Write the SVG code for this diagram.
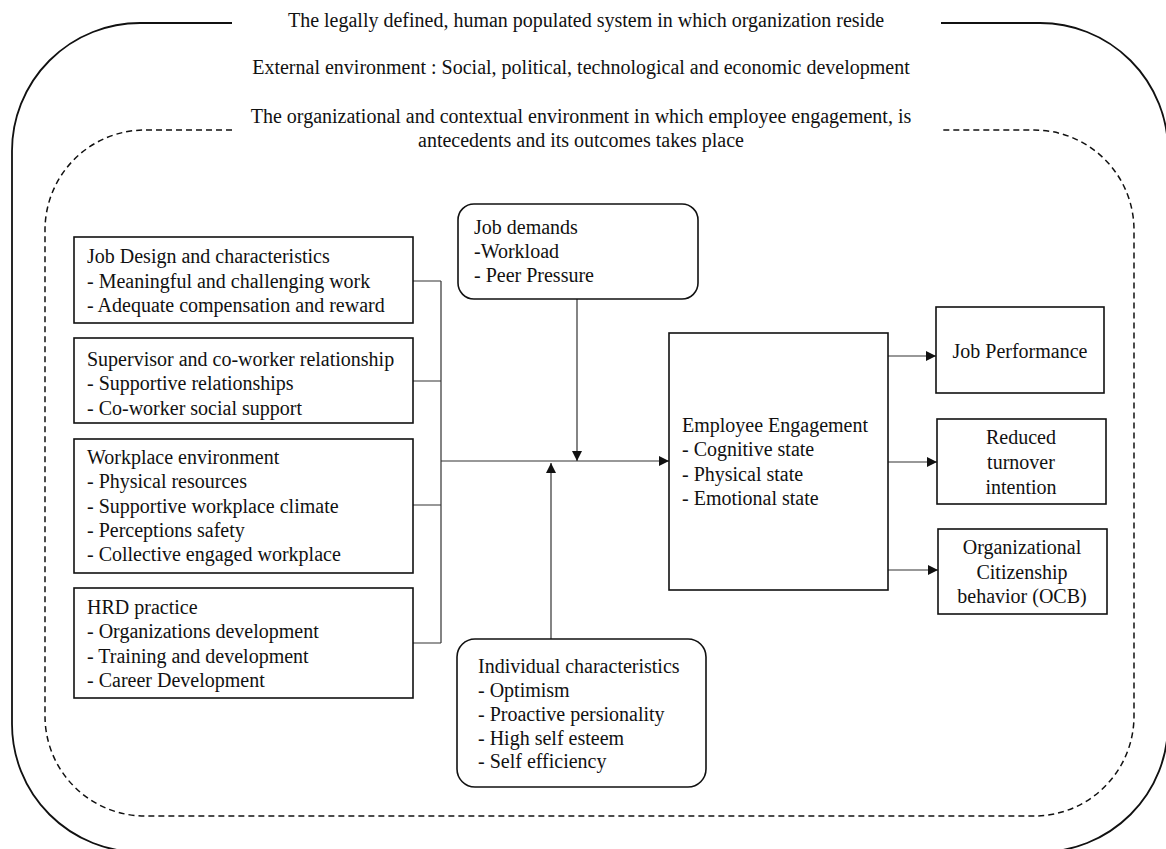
<svg xmlns="http://www.w3.org/2000/svg" width="1166" height="849" viewBox="0 0 1166 849" font-family="'Liberation Serif', serif">
  <style>
    text { font-family: 'Liberation Serif', 'Times New Roman', serif; font-size: 20px; fill: #111; }
    .mid { text-anchor: middle; }
    .box { fill: #fff; stroke: #111; stroke-width: 1.6; }
    .frame { fill: none; stroke: #111; stroke-width: 1.8; }
    .dash { fill: none; stroke: #111; stroke-width: 1.5; stroke-dasharray: 6 4; }
    .link { fill: none; stroke: #333; stroke-width: 1.2; }
  </style>
  <defs>
    <marker id="arrow" viewBox="0 0 10 10" refX="10" refY="5" markerWidth="10" markerHeight="10" markerUnits="userSpaceOnUse" orient="auto">
      <path d="M0,0 L10,5 L0,10 Z" fill="#111"/>
    </marker>
  </defs>

  <!-- outer environment frame and inner organizational context -->
  <g id="environment">
    <path class="frame" d="M232,23 H140 A128,128 0 0 0 12,151 V724 A128,128 0 0 0 140,852 H1040 A128,128 0 0 0 1168,724 V151 A128,128 0 0 0 1040,23 H941"/>
    <path class="dash" d="M232,130 H145 A100,100 0 0 0 45,230 V716 A100,100 0 0 0 145,816 H1034 A100,100 0 0 0 1134,716 V230 A100,100 0 0 0 1034,130 H941"/>
    <text class="mid" x="586" y="27">The legally defined, human populated system in which organization reside</text>
    <text class="mid" x="581" y="74">External environment : Social, political, technological and economic development</text>
    <text class="mid" x="581" y="123">The organizational and contextual environment in which employee engagement, is</text>
    <text class="mid" x="581" y="147">antecedents and its outcomes takes place</text>
  </g>

  <!-- connectors -->
  <g id="connectors">
    <path class="link" d="M413,281 H441 M413,381 H441 M413,505 H441 M413,643 H441 M441,281 V643"/>
    <path class="link" d="M441,461 H669" marker-end="url(#arrow)"/>
    <path class="link" d="M577,299 V461" marker-end="url(#arrow)"/>
    <path class="link" d="M551,639 V463" marker-end="url(#arrow)"/>
    <path class="link" d="M888,356 H936" marker-end="url(#arrow)"/>
    <path class="link" d="M888,462 H937" marker-end="url(#arrow)"/>
    <path class="link" d="M888,570 H938" marker-end="url(#arrow)"/>
  </g>

  <g id="job-design">
    <rect class="box" x="74" y="237" width="339" height="86"/>
    <text x="87" y="263">Job Design and characteristics</text>
    <text x="87" y="288">- Meaningful and challenging work</text>
    <text x="87" y="312">- Adequate compensation and reward</text>
  </g>

  <g id="supervisor">
    <rect class="box" x="74" y="338" width="339" height="85"/>
    <text x="87" y="366">Supervisor and co-worker relationship</text>
    <text x="87" y="390">- Supportive relationships</text>
    <text x="87" y="415">- Co-worker social support</text>
  </g>

  <g id="workplace">
    <rect class="box" x="74" y="439" width="339" height="134"/>
    <text x="87" y="464">Workplace environment</text>
    <text x="87" y="488">- Physical resources</text>
    <text x="87" y="513">- Supportive workplace climate</text>
    <text x="87" y="537">- Perceptions safety</text>
    <text x="87" y="561">- Collective engaged workplace</text>
  </g>

  <g id="hrd">
    <rect class="box" x="74" y="588" width="339" height="110"/>
    <text x="87" y="614">HRD practice</text>
    <text x="87" y="638">- Organizations development</text>
    <text x="87" y="663">- Training and development</text>
    <text x="87" y="687">- Career Development</text>
  </g>

  <g id="job-demands">
    <rect class="box" x="458" y="204" width="240" height="95" rx="16"/>
    <text x="474" y="234">Job demands</text>
    <text x="474" y="258">-Workload</text>
    <text x="474" y="282">- Peer Pressure</text>
  </g>

  <g id="individual">
    <rect class="box" x="457" y="639" width="249" height="148" rx="18"/>
    <text x="478" y="673">Individual characteristics</text>
    <text x="478" y="697">- Optimism</text>
    <text x="478" y="721">- Proactive persionality</text>
    <text x="478" y="745">- High self esteem</text>
    <text x="478" y="768">- Self efficiency</text>
  </g>

  <g id="engagement">
    <rect class="box" x="669" y="333" width="219" height="257"/>
    <text x="682" y="432">Employee Engagement</text>
    <text x="682" y="456">- Cognitive state</text>
    <text x="682" y="481">- Physical state</text>
    <text x="682" y="505">- Emotional state</text>
  </g>

  <g id="performance">
    <rect class="box" x="936" y="307" width="168" height="86"/>
    <text class="mid" x="1020" y="358">Job Performance</text>
  </g>

  <g id="turnover">
    <rect class="box" x="937" y="419" width="169" height="85"/>
    <text class="mid" x="1021" y="444">Reduced</text>
    <text class="mid" x="1021" y="469">turnover</text>
    <text class="mid" x="1021" y="494">intention</text>
  </g>

  <g id="ocb">
    <rect class="box" x="938" y="529" width="169" height="85"/>
    <text class="mid" x="1022" y="554">Organizational</text>
    <text class="mid" x="1022" y="579">Citizenship</text>
    <text class="mid" x="1022" y="603">behavior (OCB)</text>
  </g>
</svg>
